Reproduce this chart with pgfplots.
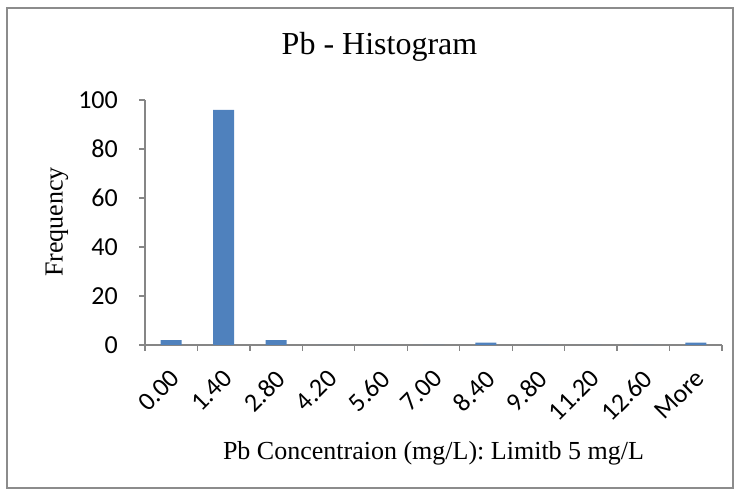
\documentclass[border=0pt]{standalone}
\usepackage{pgfplots}
\pgfplotsset{compat=1.18}
\usepackage{fontspec}
\setmainfont{Liberation Serif}
\newfontfamily\calibri{Carlito}
\definecolor{barblue}{HTML}{4F81BD}
\definecolor{axgray}{HTML}{868686}
\definecolor{framegray}{HTML}{8C8C8C}
\begin{document}
\begin{tikzpicture}[x=1pt,y=1pt]
\useasboundingbox (0,0) rectangle (739,492);
\draw[color=framegray, line width=1.5pt] (7,4) rectangle (733,484);
\begin{axis}[
  at={(145pt,147pt)}, anchor=south west,
  width=577pt, height=245pt, scale only axis,
  xmin=-0.5, xmax=10.5, ymin=0, ymax=100,
  axis lines*=left,
  axis line style={axgray, line width=1.2pt},
  ytick={0,20,...,100},
  xtick={0,...,10},
  xticklabels={0.00,1.40,2.80,4.20,5.60,7.00,8.40,9.80,11.20,12.60,More},
  minor xtick={-0.5,0.5,...,10.5},
  major x tick style={draw=none},
  tick align=outside,
  major tick length=6pt, minor tick length=6pt,
  tick style={axgray, line width=1.2pt},
  /pgf/number format/assume math mode=true,
  tick label style={font=\calibri\fontsize{26}{26}\selectfont},
  xticklabel style={anchor=north east, inner sep=0pt, xshift=-2pt, yshift=-17pt, rotate=45},
  yticklabel style={anchor=east, inner sep=0pt, xshift=-21pt},
  ybar, bar width=21pt,
  clip=false,
]
\addplot[fill=barblue, draw=none] coordinates {(0,2)(1,96)(2,2)(3,0)(4,0)(5,0)(6,1)(7,0)(8,0)(9,0)(10,1)};
\end{axis}
\node[font=\fontsize{32}{32}\selectfont] at (379.5,445) {Pb - Histogram};
\node[font=\fontsize{26}{26}\selectfont, rotate=90] at (57,270) {Frequency};
\node[font=\fontsize{26}{26}\selectfont, anchor=base] at (433.5,32) {Pb Concentraion (mg/L): Limitb 5 mg/L};
\end{tikzpicture}
\end{document}
